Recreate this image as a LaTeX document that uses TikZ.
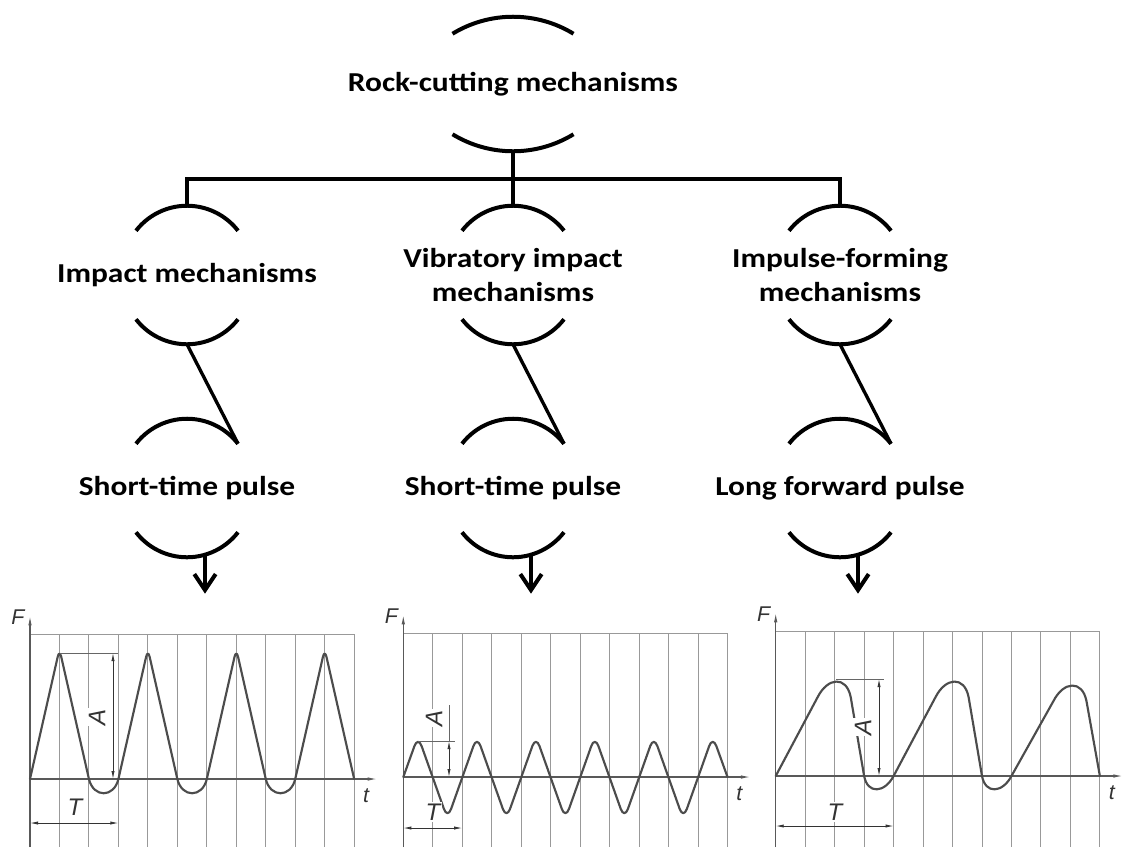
\documentclass[tikz,border=0pt]{standalone}
\usepackage{fontspec}
\setmainfont{Carlito}
\newfontfamily\treefont[FakeStretch=1.15]{Carlito}
\newfontfamily\plotfont{Liberation Sans}
\usetikzlibrary{arrows.meta}

\begin{document}
\begin{tikzpicture}[
  x=0.75pt,y=-0.75pt,
  mech/.style={font=\treefont\bfseries\fontsize{20.5}{25}\selectfont,align=center,inner sep=0pt,minimum height=103.5pt},
  arcline/.style={line width=3pt},
  link/.style={line width=3pt},
  grid/.style={black!40,line width=0.7pt},
  axis/.style={black!65,line width=0.8pt,-{Latex[length=7pt,width=2.6pt]}},
  wave/.style={black!70,line width=1.6pt,line cap=round,line join=round},
  dim/.style={black!80,line width=0.6pt,{Latex[length=6pt,width=2.4pt]}-{Latex[length=6pt,width=2.4pt]}},
  ext/.style={black!60,line width=0.6pt},
  axlabel/.style={font=\plotfont\itshape\fontsize{16}{17}\selectfont,text=black!80},
  dimlabel/.style={font=\plotfont\itshape\fontsize{18}{19}\selectfont,text=black!80,fill=white,inner sep=1pt}
]
  \useasboundingbox (0,0) rectangle (1123,847);

  % tree of mechanisms
  \node[mech,minimum height=100.5pt] (root) at (513,84) {Rock-cutting mechanisms};
  \node[mech] (impact) at (187,275) {Impact mechanisms};
  \node[mech] (vib) at (513,275) {Vibratory impact\\mechanisms};
  \node[mech] (impf) at (840,275) {Impulse-forming\\mechanisms};
  \node[mech] (pulse1) at (187,488) {Short-time pulse};
  \node[mech] (pulse2) at (513,488) {Short-time pulse};
  \node[mech] (pulse3) at (840,488) {Long forward pulse};

  % arcs above and below each label
  \foreach \nd/\hw/\sg/\rad/\ang in {root/60.5/17/116.15/31.39,
      impact/51/25/64.52/52.23, vib/51/25/64.52/52.23, impf/51/25/64.52/52.23,
      pulse1/51/25/64.52/52.23, pulse2/51/25/64.52/52.23, pulse3/51/25/64.52/52.23} {
    \draw[arcline] ([shift={(-\hw,\sg)}]\nd.north) arc[start angle=270-\ang,end angle=270+\ang,radius=\rad];
    \draw[arcline] ([shift={(\hw,-\sg)}]\nd.south) arc[start angle=90-\ang,end angle=90+\ang,radius=\rad];
  }

  \draw[link] (root.south) -- ++(0,28) coordinate (fork);
  \draw[link] (fork) -| (impact.north);
  \draw[link] (fork) -| (impf.north);
  \draw[link] (fork) -- (vib.north);

  \foreach \src/\dst in {impact/pulse1, vib/pulse2, impf/pulse3}
    \draw[link,line width=2.5pt] (\src.south) -- ([shift={(51,25)}]\dst.north);
  \foreach \dst in {pulse1,pulse2,pulse3}
    \draw[link,-{Straight Barb[length=12pt,width=16pt]}] ([shift={(18,-2.6)}]\dst.south) -- ++(0,39);

  % grids and axes of the three plots
  \foreach \gx/\gt/\ga/\n in {30/634/779/1, 403.3/633/777/2, 775.7/631/776/3} {
    \foreach \i in {1,...,11}
      \draw[grid] ({\gx+29.47*\i},\gt) -- ({\gx+29.47*\i},847);
    \draw[grid] (\gx,\gt) -- ({\gx+29.47*11},\gt);
    \draw[axis] (\gx,847) -- (\gx,{\gt-18});
    \draw[axis] (\gx,\ga) -- ({\gx+347},\ga);
    \node[axlabel] (F\n) at ({\gx-12},{\gt-17}) {F};
    \node[axlabel] (t\n) at ({\gx+336},{\ga+17}) {t};
  }

  % plot 1: short pulses
  \foreach \k in {0,...,3}
    \draw[wave,rounded corners=6pt] ({30+88.41*\k},779) -- ({59.47+88.41*\k},649) -- ({88.94+88.41*\k},779);
  \foreach \k in {0,1,2}
    \draw[wave] ({88.94+88.41*\k},779) .. controls +(4.5,19) and +(-4.5,19) .. ({118.41+88.41*\k},779);
  \draw[ext] (59.5,653) -- (118.4,653);
  \draw[dim] (113,653) -- (113,779);
  \node[dimlabel,rotate=90] (A1) at (97,717) {A};
  \draw[dim] (30,823) -- (118.4,823);
  \node[dimlabel] (T1) at (75,807) {T};

  % plot 2: vibratory pulses
  \draw[wave,rounded corners=8pt] (403.3,777)
    \foreach \k in {0,...,4} { -- ({403.3+29.47*(2*\k+0.5)},736) -- ({403.3+29.47*(2*\k+1.5)},819) }
    -- ({403.3+29.47*10.5},736) -- (727.5,777);
  \draw[ext] (418,741) -- (455,741);
  \draw[ext] (449,705) -- (449,741);
  \draw[dim] (449,741) -- (449,777);
  \node[dimlabel,rotate=90] (A2) at (434,718) {A};
  \draw[dim] (403.3,828) -- (462.2,828);
  \node[dimlabel] (T2) at (433,812) {T};

  % plot 3: long forward pulses
  \foreach \k/\h in {0/79,4/79,8/75}
    \draw[wave] ({775.7+29.47*\k},776) -- ({775.7+29.47*\k+42},{776-\h})
      .. controls +(10,-19.6) and +(-4.4,-21.6) .. ({775.7+29.47*\k+75},{776-\h})
      -- ({775.7+29.47*(\k+3)},776);
  \foreach \k in {0,4}
    \draw[wave] ({775.7+29.47*(\k+3)},776) .. controls +(3.5,18.5) and +(-9,17) .. ({775.7+29.47*(\k+4)},776);
  \draw[ext] (836,679) -- (884,679);
  \draw[dim] (879,679) -- (879,776);
  \node[dimlabel,rotate=90] (A3) at (863,727) {A};
  \draw[dim] (775.7,826) -- (893.6,826);
  \node[dimlabel] (T3) at (835,812) {T};
\end{tikzpicture}
\end{document}
